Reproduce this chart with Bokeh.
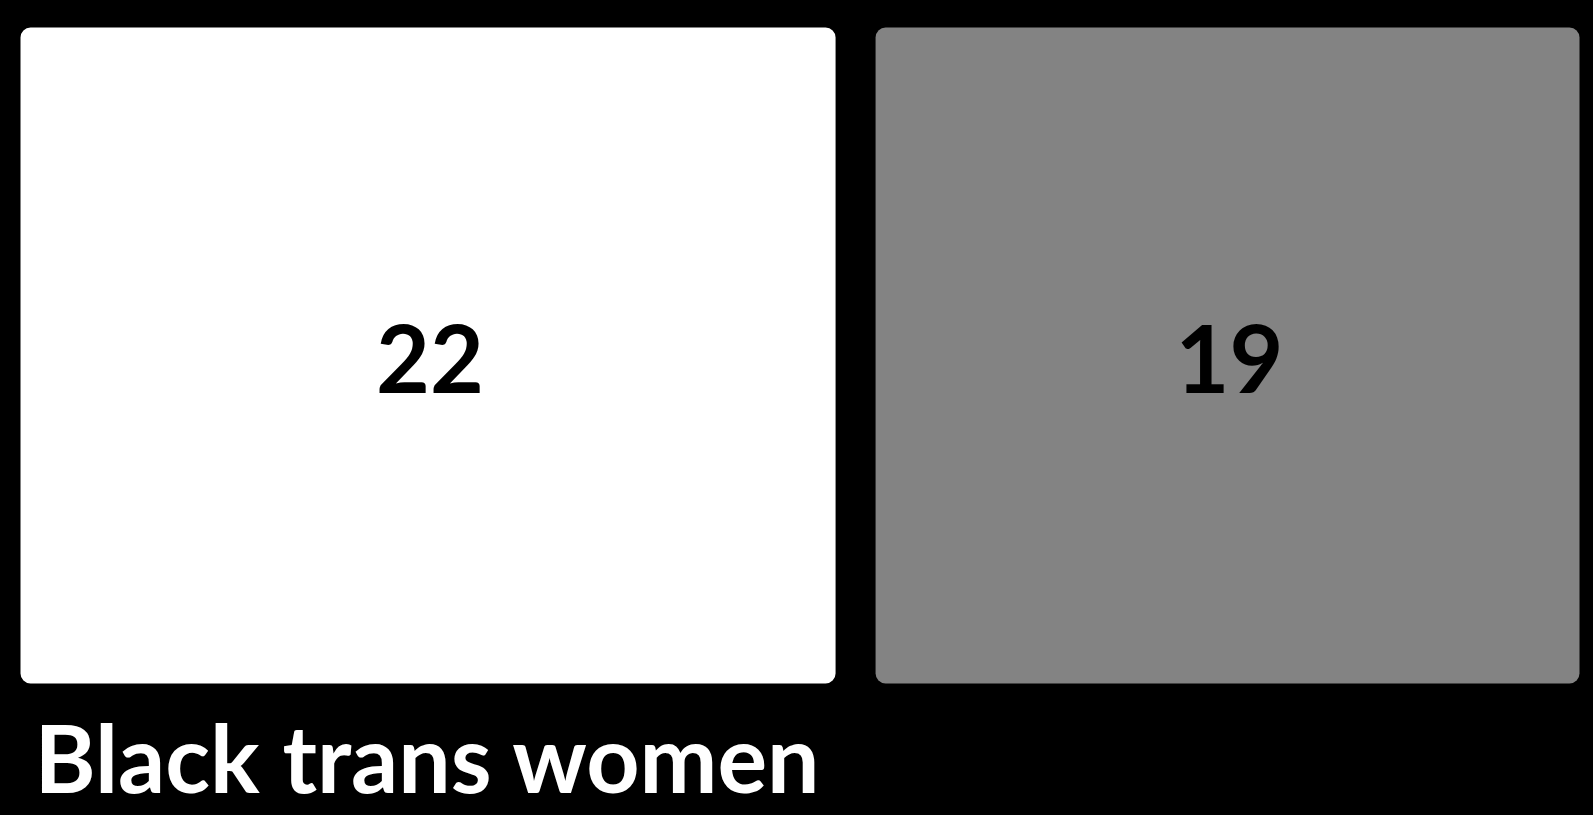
from bokeh.plotting import figure
from bokeh.models import Range1d, ColumnDataSource
from bokeh.core.properties import value
from bokeh.embed import file_html
from bokeh.resources import INLINE

# Data
labels = ["22", "19"]
values = [22, 19]
colors = ["#ffffff", "#838383"]
title_text = "Black trans women"

W, H = 1593, 815
p = figure(width=W, height=H, output_backend="svg", toolbar_location=None,
           x_range=Range1d(0, W), y_range=Range1d(H, 0),
           min_border=0, outline_line_color=None,
           background_fill_color="black", border_fill_color="black")
p.axis.visible = False
p.grid.visible = False

# slice layout
x0, x1, gap = 20, 1579, 40
top, bottom = 27, 683
avail = (x1 - x0) - gap * (len(values) - 1)
tot = sum(values)
lefts, rights = [], []
cur = x0
for v in values:
    w = avail * v / tot
    lefts.append(cur)
    rights.append(cur + w)
    cur += w + gap

src = ColumnDataSource(dict(left=lefts, right=rights, top=[top] * len(values),
                            bottom=[bottom] * len(values), color=colors, label=labels,
                            cx=[(l + r) / 2 + 2 for l, r in zip(lefts, rights)],
                            cy=[(top + bottom) / 2 + 3] * len(values)))
p.quad(left="left", right="right", top="top", bottom="bottom", source=src,
       fill_color="color", line_color=None, border_radius=10)
p.text(x="cx", y="cy", text="label", source=src, text_font=value("Lato"),
       text_font_style="bold", text_font_size="93px", text_color="black",
       text_align="center", text_baseline="middle")

p.text(x=[34], y=[756], text=[title_text], text_font=value("Lato"),
       text_font_style="bold", text_font_size="93px", text_color="white",
       text_align="left", text_baseline="alphabetic")

html = file_html(p, INLINE)
html = html.replace("<head>", "<head><style>html,body{margin:0;padding:0;background:#000;}</style>", 1)
open("out.html", "w").write(html)
